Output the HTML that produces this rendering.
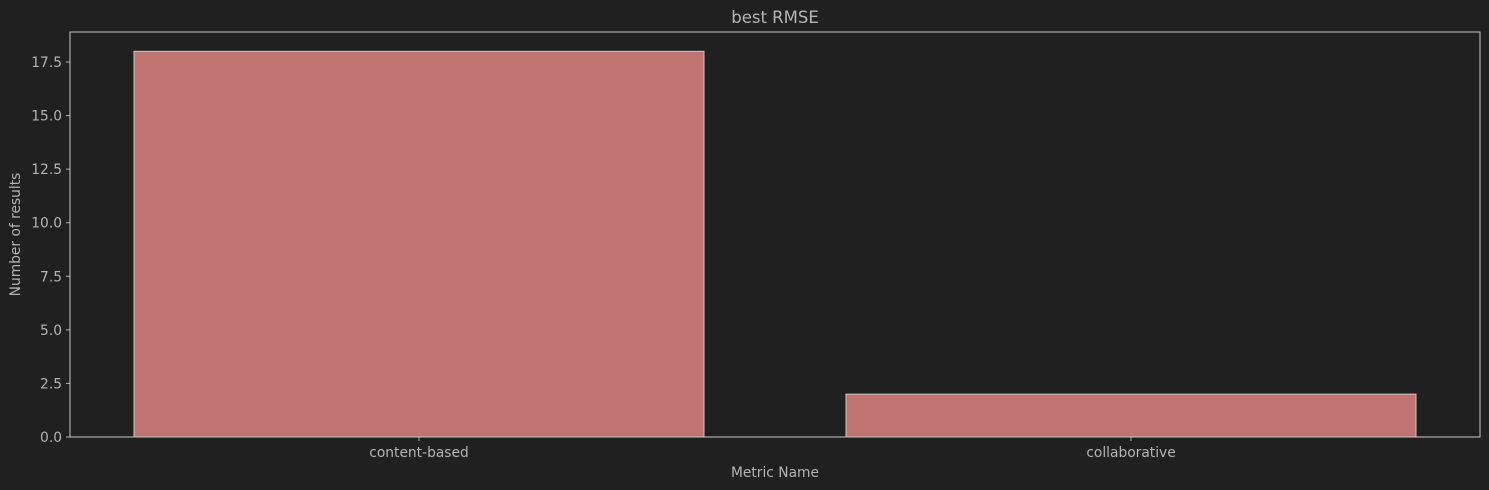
<!DOCTYPE html>
<html><head><meta charset="utf-8"><style>
html,body{margin:0;padding:0;background:#202020;}
svg{display:block;}
text{font-family:"DejaVu Sans","Liberation Sans",sans-serif;fill:#b4b4b4;}
</style></head><body>
<svg id="chart" width="1489" height="490">
<rect x="0" y="0" width="1489" height="490" fill="#202020"/>
</svg>
<script>
const categories = ["content-based", "collaborative"];
const values = [18, 2];
const yTicks = [0, 2.5, 5, 7.5, 10, 12.5, 15, 17.5];
const yTickLabels = ["0.0","2.5","5.0","7.5","10.0","12.5","15.0","17.5"];

const svg = document.getElementById('chart');
const NS = 'http://www.w3.org/2000/svg';
const L = 70, R = 1480, T = 32, B = 437;
const yMax = Math.max(...values) * 1.05;
const y = v => B - (v / yMax) * (B - T);
const x0 = 419, step = 712;
const x = i => x0 + step * i;
const bw = 570;
function mk(tag, attrs, txt){
  const e = document.createElementNS(NS, tag);
  for (const k in attrs) e.setAttribute(k, attrs[k]);
  if (txt !== undefined) e.textContent = txt;
  svg.appendChild(e);
  return e;
}
values.forEach((v, i) => {
  const r = mk('rect', {x: x(i) - bw/2, y: y(v), width: bw, height: B - y(v), fill: '#bf7471', stroke: '#c8c8c8', 'stroke-width': 1});
  
  
  const t = mk('text', {x: x(i), y: 457, 'font-size': 13.8, 'text-anchor': 'middle'}, categories[i]);
  
  
  const tk = mk('line', {x1: x(i), x2: x(i), y1: B, y2: B + 4, stroke: '#b4b4b4'});
  
  
});
yTicks.forEach((v, i) => {
  const tk = mk('line', {x1: L - 4, x2: L, y1: y(v), y2: y(v), stroke: '#b4b4b4'});
  
  
  const t = mk('text', {x: L - 8, y: y(v) + 5, 'font-size': 13.8, 'text-anchor': 'end'}, yTickLabels[i]);
  
  
});
const frame = mk('rect', {x: L, y: T, width: R - L, height: B - T, fill: 'none', stroke: '#c8c8c8', 'stroke-width': 1});


const title = mk('text', {x: (L + R) / 2, y: 23, 'font-size': 16.5, 'text-anchor': 'middle'}, 'best RMSE');


const xt = mk('text', {x: (L + R) / 2, y: 477, 'font-size': 13.8, 'text-anchor': 'middle'}, 'Metric Name');


const yt = mk('text', {x: 20, y: (T + B) / 2, 'font-size': 13.8, 'text-anchor': 'middle', transform: 'rotate(-90 20 ' + (T + B) / 2 + ')'}, 'Number of results');


</script>
</body></html>
